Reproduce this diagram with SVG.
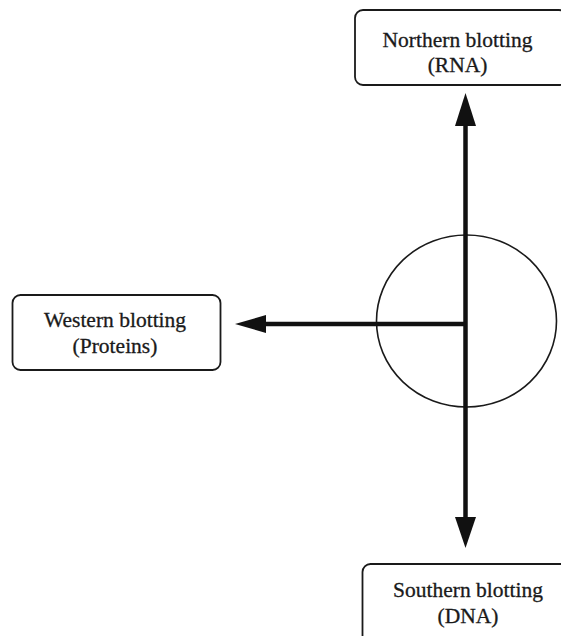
<svg xmlns="http://www.w3.org/2000/svg" width="561" height="636" viewBox="0 0 561 636">
<style>
.box{fill:#fff;stroke:#1a1a1a;stroke-width:1.8}
.lbl{font-family:"Liberation Serif","Times New Roman",serif;font-size:21.5px;fill:#1a1a1a;stroke:#1a1a1a;stroke-width:0.3;text-anchor:middle}
.ln{stroke:#111;stroke-width:4.5;fill:none}
.hd{fill:#111}
</style>
<rect width="561" height="636" fill="#fff"/>
<g id="circle">
<ellipse cx="466.5" cy="321" rx="90" ry="86" fill="none" stroke="#1a1a1a" stroke-width="1.6"/>
</g>
<g id="connectors">
<line class="ln" x1="465.5" y1="120" x2="465.5" y2="522"/>
<line class="ln" x1="262" y1="324" x2="465.5" y2="324"/>
<polygon class="hd" points="465.5,93 455,126 476,126"/>
<polygon class="hd" points="465.5,548 455,517 476,517"/>
<polygon class="hd" points="235,324 266,315 266,333"/>
</g>
<g id="northern">
<rect class="box" x="355" y="10" width="212" height="75" rx="8"/>
<text class="lbl" x="457.5" y="46.5">Northern blotting</text>
<text class="lbl" x="457.5" y="72">(RNA)</text>
</g>
<g id="western">
<rect class="box" x="12.5" y="295" width="208" height="75" rx="8"/>
<text class="lbl" x="115" y="327">Western blotting</text>
<text class="lbl" x="115" y="353">(Proteins)</text>
</g>
<g id="southern">
<rect class="box" x="362.5" y="564" width="210" height="85" rx="8"/>
<text class="lbl" x="468" y="597">Southern blotting</text>
<text class="lbl" x="468" y="623">(DNA)</text>
</g>
</svg>
